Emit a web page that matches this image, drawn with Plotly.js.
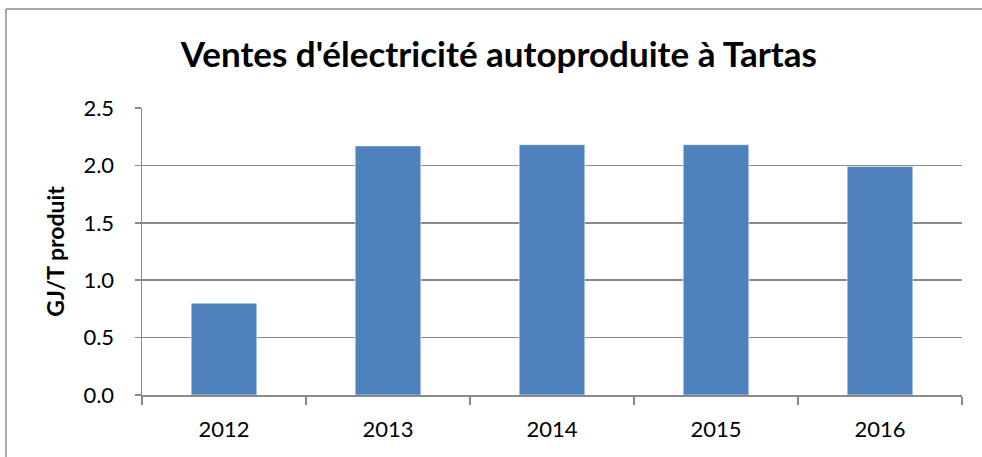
<!DOCTYPE html>
<html>
<head>
<meta charset="utf-8">
<script src="https://cdn.plot.ly/plotly-3.0.1.min.js"></script>
<style>html,body{margin:0;padding:0;background:#fff;}#chart{width:982px;height:457px;}</style>
</head>
<body>
<div id="chart"></div>
<script>
const years = ["2012", "2013", "2014", "2015", "2016"];
const values = [0.80, 2.17, 2.18, 2.18, 1.99];
const titleText = "Ventes d'électricité autoproduite à Tartas";
const yTitle = "GJ/T produit";
const yTicks = [0, 0.5, 1.0, 1.5, 2.0, 2.5];

const gridColor = "#8a8a8a";
const trace = {
  type: "bar",
  x: years,
  y: values,
  width: 0.4,
  marker: {color: "#4f81bd", line: {color: "#ffffff", width: 0.5}},
  hoverinfo: "x+y"
};
const W = 982, H = 457, L = 142, R = 20, T = 108, B = 62;
const pw = W - L - R, ph = H - T - B;
const layout = {
  width: W, height: H,
  margin: {l: L, r: R, t: T, b: B},
  paper_bgcolor: "#ffffff", plot_bgcolor: "#ffffff",
  showlegend: false,
  font: {family: "Lato, 'Open Sans', sans-serif", color: "#000"},
  title: {text: "<b>" + titleText + "</b>", font: {size: 35, family: "Lato, 'Open Sans', sans-serif", color: "#000"}, x: 0.508, xanchor: "center", y: 0.88, yanchor: "middle"},
  xaxis: {
    type: "category",
    tickson: "boundaries",
    ticks: "outside", ticklen: 8, tickcolor: gridColor, tickwidth: 1.5,
    showline: true, linecolor: gridColor, linewidth: 1.5,
    showgrid: false,
    tickfont: {size: 22},
    ticklabelstandoff: 14,
    automargin: false,
    fixedrange: true
  },
  yaxis: {
    range: [0, 2.5],
    tickvals: yTicks,
    tickformat: ".1f",
    ticks: "outside", ticklen: 6, tickcolor: gridColor, tickwidth: 1.5,
    showline: true, linecolor: gridColor, linewidth: 1.5,
    showgrid: true, gridcolor: gridColor, gridwidth: 1.5,
    zeroline: false,
    tickfont: {size: 22},
    ticklabelstandoff: 16,
    title: {text: "<b>" + yTitle + "</b>", font: {size: 23}, standoff: 12},
    automargin: false,
    fixedrange: true
  },
  shapes: [
    {type: "line", xref: "paper", yref: "paper",
     x0: (6 - L) / pw, x1: (6 - L) / pw, y0: 1 + (T - 9) / ph, y1: -(H + 10 - (T + ph)) / ph,
     line: {color: "#8c8c8c", width: 1.5}, layer: "below"},
    {type: "line", xref: "paper", yref: "paper",
     x0: (6 - L) / pw, x1: (W + 10 - L) / pw, y0: 1 + (T - 9) / ph, y1: 1 + (T - 9) / ph,
     line: {color: "#8c8c8c", width: 1.5}, layer: "below"}
  ]
};
Plotly.newPlot("chart", [trace], layout, {displayModeBar: false, staticPlot: true});
</script>
</body>
</html>
